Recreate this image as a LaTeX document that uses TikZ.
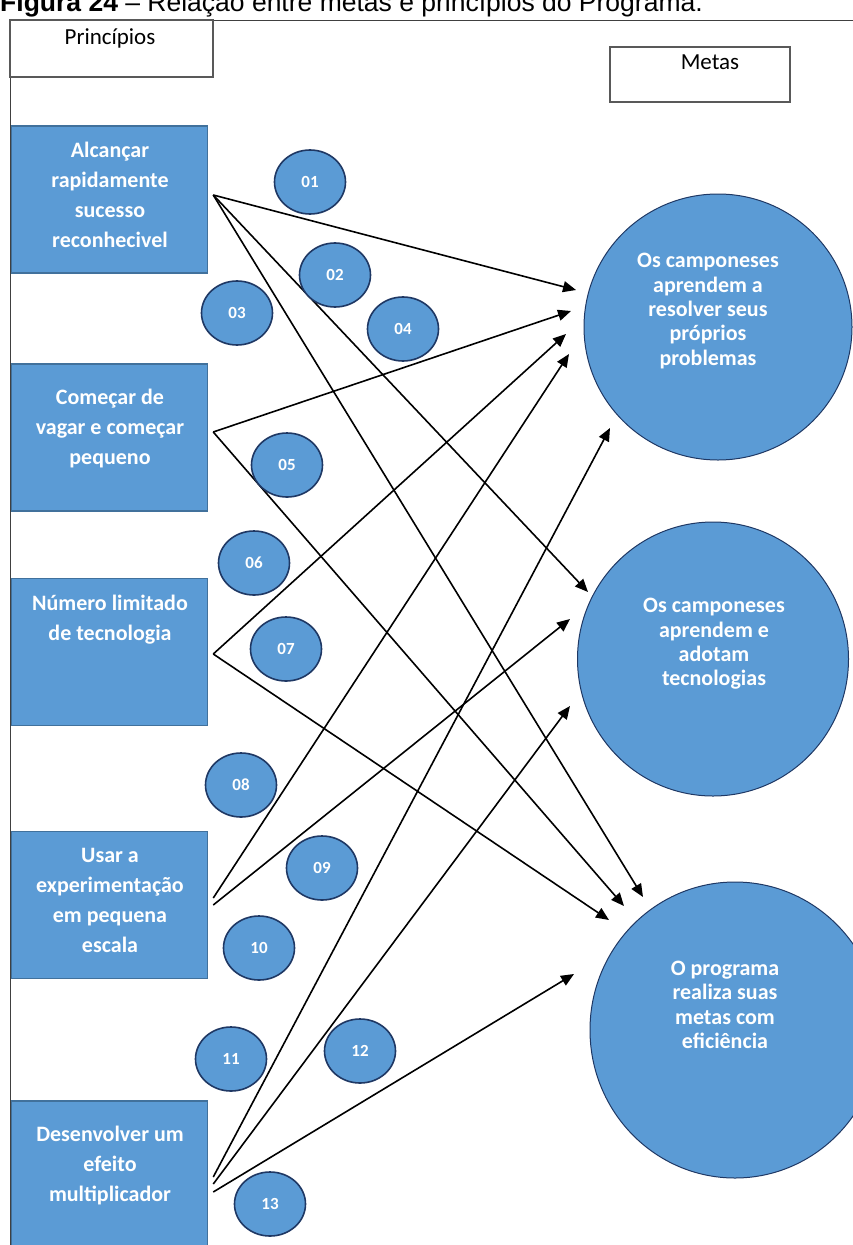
\documentclass[tikz,border=0pt]{standalone}
\usepackage{fontspec}
\setmainfont{Carlito}
\newfontfamily\capfont{Liberation Sans}
\usepackage{xcolor}
\usepackage{tikz}
\usetikzlibrary{shapes.geometric,positioning,arrows.meta}
\definecolor{azul}{RGB}{91,155,213}
\definecolor{azulbord}{RGB}{65,113,156}
\definecolor{azulesc}{RGB}{31,56,100}

\begin{document}
\begin{tikzpicture}[x=1pt,y=-1pt,
    principio/.style={draw=azulbord, line width=1.5pt, fill=azul, minimum width=196pt, minimum height=147pt, inner sep=0pt},
    ptexto/.style={text=white, font=\fontsize{22}{30}\selectfont\bfseries, align=center, inner sep=0pt},
    meta/.style={ellipse, draw=azulesc, line width=1pt, fill=azul, inner sep=0pt},
    mtexto/.style={text=white, font=\fontsize{22}{24.3}\selectfont\bfseries, align=center, inner sep=0pt},
    numero/.style={ellipse, draw=azulesc, line width=1.6pt, fill=azul, minimum width=71pt, minimum height=64pt, inner sep=0pt, text=white, font=\fontsize{17}{17}\selectfont\bfseries},
    titulo/.style={draw=black!65, line width=1.3pt, fill=white, inner sep=0pt},
    ttexto/.style={font=\fontsize{23}{26}\selectfont, inner sep=0pt},
    seta/.style={line width=1.6pt, -{Triangle[length=13pt,width=11pt]}}]
    \useasboundingbox (0,0) rectangle (853,1245);

    \node[anchor=base west, inner sep=0pt, font=\capfont\fontsize{26.5}{30}\selectfont] (legenda) at (0,11) {\textbf{Figura 24} – Relação entre metas e princípios do Programa.};
    \draw[black!75, line width=1pt] (10,1245) -- (10,20) -- (853,20);

    \node[titulo, minimum width=203pt, minimum height=57pt] (princ) at (111.5,48.5) {};
    \node[ttexto] (princt) at (110,38) {Princípios};
    \node[titulo, minimum width=180pt, minimum height=55pt] (metas) at (700,74.5) {};
    \node[ttexto] (metast) at (710,62) {Metas};

    % principios
    \node[principio] (p1) at (109.5,199.5) {};
    \node[principio] (p2) at (109.5,437.5) {};
    \node[principio] (p3) at (109.5,652) {};
    \node[principio] (p4) at (109.5,905) {};
    \node[principio] (p5) at (109.5,1174.5) {};
    \node[ptexto] (p1t) at (110,195) {Alcançar\\rapidamente\\sucesso\\reconhecivel};
    \node[ptexto] (p2t) at (110,429) {Começar de\\vagar e começar\\pequeno};
    \node[ptexto] (p3t) at (110,620) {Número limitado\\de tecnologia};
    \node[ptexto] (p4t) at (110,900) {Usar a\\experimentação\\em pequena\\escala};
    \node[ptexto] (p5t) at (110,1165) {Desenvolver um\\efeito\\multiplicador};

    % metas
    \node[meta, minimum width=268pt, minimum height=266pt] (g1) at (718,327) {};
    \node[meta, minimum width=271pt, minimum height=274pt] (g2) at (713,659) {};
    \node[meta, minimum width=290pt, minimum height=296pt] (g3) at (735,1030) {};
    \node[mtexto] (g1t) at (708,311) {Os camponeses\\aprendem a\\resolver seus\\próprios\\problemas};
    \node[mtexto] (g2t) at (714,644) {Os camponeses\\aprendem e\\adotam\\tecnologias};
    \node[mtexto] (g3t) at (725,1005) {O programa\\realiza suas\\metas com\\eficiência};

    \coordinate (g1a) at (576,290);
    \coordinate (g1b) at (571,311);
    \coordinate (g1c) at (566,334);
    \coordinate (g1d) at (569,354);
    \coordinate (g1e) at (610,428);
    \coordinate (g2a) at (588,592);
    \coordinate (g2b) at (570,619);
    \coordinate (g2c) at (570,706);
    \coordinate (g3a) at (643,897);
    \coordinate (g3b) at (624,906);
    \coordinate (g3c) at (609,920);
    \coordinate (g3d) at (574,974);

    \draw[seta] ([xshift=5pt,yshift=4.5pt]p1.east) -- (g1a);
    \draw[seta] ([xshift=5pt,yshift=4.5pt]p1.east) -- (g2a);
    \draw[seta] ([xshift=5pt,yshift=4.5pt]p1.east) -- (g3a);
    \draw[seta] ([xshift=5pt,yshift=5.5pt]p2.east) -- (g1b);
    \draw[seta] ([xshift=5pt,yshift=5.5pt]p2.east) -- (g3b);
    \draw[seta] ([xshift=5pt,yshift=-2pt]p3.east) -- (g1c);
    \draw[seta] ([xshift=5pt,yshift=-2pt]p3.east) -- (g3c);
    \draw[seta] ([xshift=5pt,yshift=7pt]p4.east) -- (g1d);
    \draw[seta] ([xshift=5pt]p4.east) -- (g2b);
    \draw[seta] ([xshift=5pt,yshift=-2.5pt]p5.east) -- (g1e);
    \draw[seta] ([xshift=5pt,yshift=-9.5pt]p5.east) -- (g2c);
    \draw[seta] ([xshift=5pt,yshift=-17.5pt]p5.east) -- (g3d);

    \foreach \n/\x/\y in {01/310/182, 02/335/275, 03/237/313, 04/403/329, 05/287/465, 06/254/563, 07/286/649, 08/241/785, 09/322/868, 10/259/948, 11/231/1059, 12/360/1051, 13/270/1204}
        \node[numero] (n\n) at (\x,\y) {\n};
\end{tikzpicture}
\end{document}
